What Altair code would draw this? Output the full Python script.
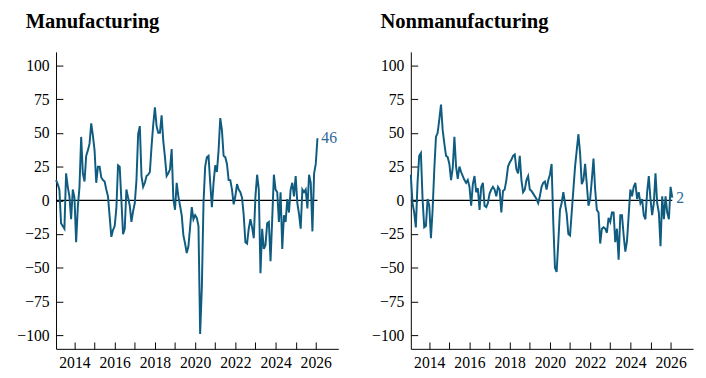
import altair as alt
import pandas as pd

# Monthly series, Feb 2013 .. Feb 2026
start_year = 2013
start_month = 2

manufacturing = [
    15, 12, 8, -17, -19, -21, 20, 10, 3, -14,
    8, 2, -31, -5, 10, 47, 20, 14, 33, 37,
    42, 57, 48, 37, 13, 25, 25, 17, 15, 14,
    8, 3, -12, -27, -22, -19, -6, 26, 25, 0,
    -25, -21, 8, 2, -4, -16, -8, -2, 15, 49,
    55, 18, 10, 13, 18, 19, 21, 40, 56, 69,
    55, 50, 50, 63, 44, 32, 18, 20, 23, 38,
    1, -7, 13, 3, -4, -11, -26, -32, -39, -34,
    -20, -5, -14, -11, -13, -19, -99, -65, -2, 25,
    32, 33, 13, -5, 13, 26, 21, 37, 61, 52,
    33, 32, 27, 15, 15, 8, -3, 3, 12, 8,
    6, 2, -11, -31, -32, -21, -14, -20, -28, 3,
    19, 8, -54, -21, -36, -33, -17, -16, -45, -14,
    19, 8, 6, -16, 6, -36, -11, -16, 1, -9,
    8, 13, 3, 18, -2, -10, -21, 8, 6, 8,
    -6, 19, 13, -23, 20, 27, 46,
]

nonmanufacturing = [
    19, -2, -9, -20, 13, 33, 35, 1, -20, -19,
    1, -4, -28, -7, 23, 47, 50, 60, 71, 52,
    42, 33, 32, 27, 15, 24, 47, 25, 16, 25,
    21, 18, 15, 13, 15, 10, -4, 12, 18, 6,
    9, -7, 10, 13, -4, -5, -2, 5, 8, 10,
    8, 3, 10, 8, -9, 7, 8, 15, 25, 28,
    30, 33, 34, 23, 20, 33, 15, 6, 8, 15,
    18, 8, 7, 5, 3, 1, -2, 3, 10, 13,
    14, 8, 15, 19, 27, -16, -50, -53, -31, -7,
    -2, 6, -2, -10, -25, -26, -9, 8, 25, 37,
    49, 35, 12, 15, 27, 12, -4, 1, 15, 31,
    8, -7, -9, -32, -21, -20, -21, -24, -13, -16,
    -9, -9, -31, -21, -44, -11, -11, -26, -38, -30,
    -11, 8, 3, 10, 13, 1, 6, -2, 1, -11,
    -14, 6, 18, 1, -11, -2, 20, -2, -9, -34,
    3, -14, 3, -9, -14, 10, 2,
]

titles = ["Manufacturing", "Nonmanufacturing"]
y_ticks = [-100, -75, -50, -25, 0, 25, 50, 75, 100]
x_ticks = list(range(2014, 2027))
x_domain = [2013.083, 2027.12]
y_domain = [-110, 110]

LINE = "#0f5c80"
LABEL = "#2e6a98"
FONT = "Liberation Serif"


def panel(values, title):
    df = pd.DataFrame({
        "t": [start_year + (start_month - 1 + i) / 12 for i in range(len(values))],
        "v": values,
    })
    x_axis = alt.Axis(
        values=x_ticks,
        labelExpr="datum.value % 2 == 0 ? toString(datum.value) : ''",
        tickSize={"expr": "-7"},
        labelPadding=13,
        labelFont=FONT, labelFontSize=16, labelColor="black",
        domainColor="black", tickColor="black", grid=False,
        labelFlush=False, labelOverlap=False,
    )
    y_axis = alt.Axis(
        values=y_ticks,
        tickSize={"expr": "-7"},
        labelPadding=14,
        labelFont=FONT, labelFontSize=16, labelColor="black",
        domainColor="black", tickColor="black", grid=False,
        labelFlush=False, labelOverlap=False,
    )
    x_scale = alt.Scale(domain=x_domain, nice=False, zero=False)
    y_scale = alt.Scale(domain=y_domain, nice=False, zero=False)

    line = alt.Chart(df).mark_line(color=LINE, strokeWidth=2).encode(
        x=alt.X("t:Q", scale=x_scale, axis=x_axis, title=None),
        y=alt.Y("v:Q", scale=y_scale, axis=y_axis, title=None),
    )
    zero = alt.Chart(df).mark_rule(color="black", strokeWidth=1.3).encode(
        x=alt.X("min(t):Q", scale=x_scale, axis=x_axis, title=None),
        x2="max(t)",
        y=alt.Y(datum=0, scale=y_scale, axis=y_axis, title=None),
    )
    label = alt.Chart(df.tail(1)).mark_text(
        align="left", baseline="middle", dx=4, font=FONT, fontSize=16, color=LABEL
    ).encode(
        x=alt.X("t:Q", scale=x_scale, axis=x_axis, title=None),
        y=alt.Y("v:Q", scale=y_scale, axis=y_axis, title=None),
        text=alt.Text("v:Q", format="d"),
    )

    return alt.layer(zero, line, label).properties(
        width=288, height=303,
        title=alt.TitleParams(
            title, anchor="start", frame="group", dx=-31, offset=20,
            font=FONT, fontSize=21, fontWeight="bold", color="black",
        ),
    )


chart = alt.hconcat(
    panel(manufacturing, titles[0]),
    panel(nonmanufacturing, titles[1]),
    spacing=33,
).properties(
    padding={"left": 8, "top": 0, "right": 5, "bottom": 5},
    background="white",
).configure_view(stroke=None)

chart.save("out.html", embed_options={"renderer": "svg", "actions": False})
